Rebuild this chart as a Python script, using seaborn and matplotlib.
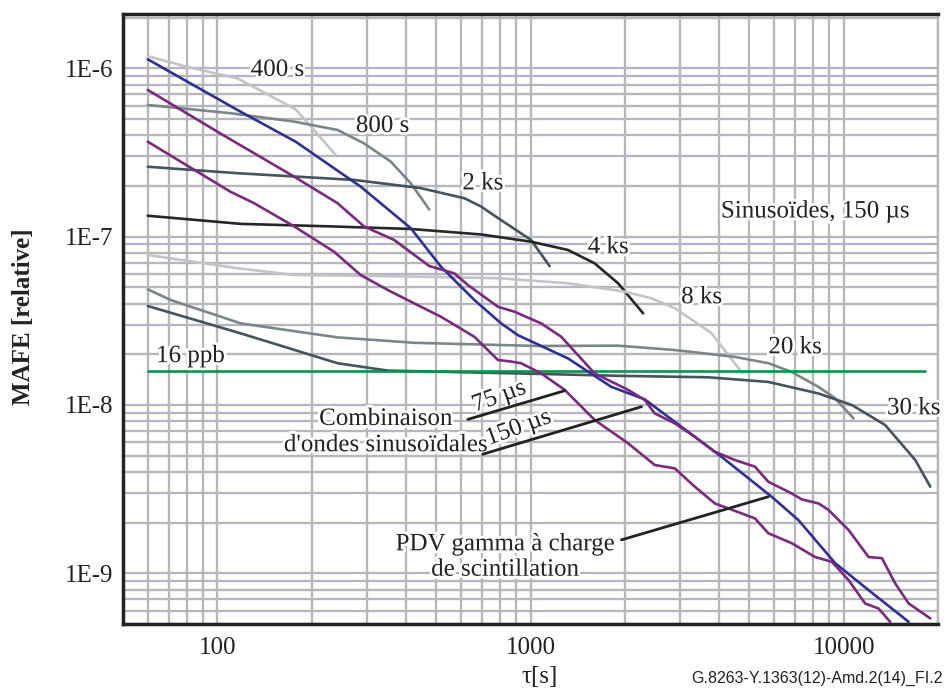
import numpy as np
import pandas as pd
import matplotlib
matplotlib.use("Agg")
import matplotlib.pyplot as plt
import matplotlib.patheffects as pe
from matplotlib.ticker import FixedLocator, FixedFormatter, NullFormatter, LogLocator
import seaborn as sns

# ---------------- data ----------------
x_400s = [60, 80, 116, 178, 239]
y_400s = [1.18e-6, 1.02e-6, 8.7e-7, 5.7e-7, 3.05e-7]

x_800s = [60, 110, 176, 242, 294, 358, 415, 475]
y_800s = [6.05e-7, 5.41e-7, 4.82e-7, 4.3e-7, 3.58e-7, 2.79e-7, 2.07e-7, 1.45e-7]

x_2ks = [60, 116, 274, 447, 615, 695, 787, 1004, 1151]
y_2ks = [2.6e-7, 2.38e-7, 2.17e-7, 1.94e-7, 1.69e-7, 1.51e-7, 1.29e-7, 9.55e-8, 6.68e-8]

x_4ks = [60, 119, 230, 415, 695, 1004, 1317, 1602, 1904, 2289]
y_4ks = [1.33e-7, 1.19e-7, 1.15e-7, 1.11e-7, 1.03e-7, 9.33e-8, 8.33e-8, 6.94e-8, 5.28e-8, 3.5e-8]

x_8ks = [60, 116, 176, 447, 806, 1317, 1998, 2432, 2882, 3785, 4280, 4742]
y_8ks = [7.78e-8, 6.49e-8, 5.92e-8, 5.78e-8, 5.65e-8, 5.28e-8, 4.71e-8, 4.3e-8, 3.77e-8, 2.67e-8, 1.98e-8, 1.55e-8]

x_20ks = [60, 71, 119, 242, 426, 1056, 1904, 2888, 4494, 5745, 6823, 8307, 9365, 10748]
y_20ks = [4.86e-8, 4.2e-8, 3.05e-8, 2.52e-8, 2.34e-8, 2.24e-8, 2.25e-8, 2.12e-8, 1.93e-8, 1.77e-8,
          1.57e-8, 1.28e-8, 1.1e-8, 8.32e-9]

x_30ks = [60, 119, 242, 350, 1056, 1904, 3694, 5745, 8307, 10630, 13566, 16920, 18900]
y_30ks = [3.87e-8, 2.66e-8, 1.77e-8, 1.6e-8, 1.53e-8, 1.49e-8, 1.46e-8, 1.37e-8, 1.17e-8, 9.98e-9,
          7.6e-9, 4.71e-9, 3.27e-9]

x_pdv = [60, 116, 178, 287, 415, 518, 662, 806, 911, 1317, 1813, 2316, 3032, 4073, 5888, 7170,
         9387, 12004, 16120]
y_pdv = [1.13e-6, 5.65e-7, 3.66e-7, 1.98e-7, 1.12e-7, 6.62e-8, 4.2e-8, 3.05e-8, 2.6e-8, 1.89e-8,
         1.28e-8, 1.08e-8, 7.42e-9, 4.92e-9, 2.85e-9, 2.07e-9, 1.15e-9, 7.95e-10, 5.15e-10]

x_comb150 = [60, 102, 176, 242, 294, 367, 475, 571, 631, 787, 889, 1082, 1254, 1602, 2049, 2316,
             2493, 2888, 3346, 3878, 4494, 5207, 5745, 6823, 7345, 8307, 8941, 10360, 12004, 13243,
             14602, 16120, 18900]
y_comb150 = [7.43e-7, 4.11e-7, 2.27e-7, 1.58e-7, 1.15e-7, 9.55e-8, 6.69e-8, 6.05e-8, 5.16e-8, 3.83e-8,
             3.58e-8, 3.05e-8, 2.54e-8, 1.54e-8, 1.23e-8, 1.07e-8, 8.91e-9, 7.78e-9, 6.48e-9, 5.27e-9,
             4.71e-9, 4.3e-9, 3.5e-9, 2.98e-9, 2.75e-9, 2.6e-9, 2.38e-9, 1.81e-9, 1.25e-9, 1.23e-9,
             8.71e-10, 6.62e-10, 5.4e-10]

x_comb75 = [60, 110, 131, 176, 236, 287, 350, 447, 518, 662, 787, 868, 933, 1082, 1285, 1602, 2049,
            2493, 2888, 3346, 3878, 4280, 5207, 5745, 6823, 8101, 9168, 10360, 11706, 12920, 14073]
y_comb75 = [3.66e-7, 1.85e-7, 1.58e-7, 1.15e-7, 8.13e-8, 5.91e-8, 4.82e-8, 3.83e-8, 3.34e-8, 2.54e-8,
            1.85e-8, 1.81e-8, 1.77e-8, 1.54e-8, 1.23e-8, 8.15e-9, 5.92e-9, 4.4e-9, 4.2e-9, 3.27e-9,
            2.6e-9, 2.43e-9, 2.12e-9, 1.73e-9, 1.51e-9, 1.25e-9, 1.17e-9, 9.12e-10, 6.62e-10, 6.18e-10,
            5.15e-10]

x_16ppb = [60, 18140]
y_16ppb = [1.6e-8, 1.6e-8]

series_names = ["400 s", "800 s", "2 ks", "4 ks", "8 ks", "20 ks", "30 ks",
                "16 ppb", "PDV", "75 µs", "150 µs"]
series_x = [x_400s, x_800s, x_2ks, x_4ks, x_8ks, x_20ks, x_30ks, x_16ppb, x_pdv, x_comb75, x_comb150]
series_y = [y_400s, y_800s, y_2ks, y_4ks, y_8ks, y_20ks, y_30ks, y_16ppb, y_pdv, y_comb75, y_comb150]

y_ticks = [1e-9, 1e-8, 1e-7, 1e-6]
y_tick_labels = ["1E-9", "1E-8", "1E-7", "1E-6"]
x_ticks = [100, 1000, 10000]
x_tick_labels = ["100", "1000", "10000"]

# ---------------- style ----------------
c_light = "#c3c4c8"
c_mid = "#7d8589"
c_dark = "#47535a"
c_black = "#262626"
palette = {"400 s": c_light, "800 s": c_mid, "2 ks": c_dark, "4 ks": c_black,
           "8 ks": c_light, "20 ks": c_mid, "30 ks": c_dark, "16 ppb": "#00934a",
           "PDV": "#2e3192", "75 µs": "#7a2a7e", "150 µs": "#7a2a7e"}

sns.set_style("white")
plt.rcParams["font.family"] = ["Liberation Serif", "DejaVu Serif"]

df = pd.concat([pd.DataFrame({"tau": xs, "mafe": ys, "series": n})
                for n, xs, ys in zip(series_names, series_x, series_y)], ignore_index=True)

fig = plt.figure(figsize=(9.49, 6.88), dpi=100)
ax = fig.add_axes([123 / 949, 1 - 624 / 688, (938 - 123) / 949, (624 - 14) / 688])

sns.lineplot(data=df, x="tau", y="mafe", hue="series", palette=palette, hue_order=series_names,
             sort=False, estimator=None, units="series", legend=False, linewidth=1.9, ax=ax)

ax.set_xscale("log")
ax.set_yscale("log")
ax.set_xlim(50, 20000)
ax.set_ylim(5e-10, 2.1e-6)

ax.xaxis.set_major_locator(FixedLocator(x_ticks))
ax.xaxis.set_major_formatter(FixedFormatter(x_tick_labels))
ax.xaxis.set_minor_locator(LogLocator(base=10, subs=np.arange(2, 10)))
ax.xaxis.set_minor_formatter(NullFormatter())
ax.yaxis.set_major_locator(FixedLocator(y_ticks))
ax.yaxis.set_major_formatter(FixedFormatter(y_tick_labels))
ax.yaxis.set_minor_locator(LogLocator(base=10, subs=np.arange(2, 10)))
ax.yaxis.set_minor_formatter(NullFormatter())

ax.set_axisbelow(True)
ax.grid(True, which="both", color="#b5b7bc", linewidth=1.7)
ax.tick_params(which="both", direction="in", length=8, width=2, color="#222222",
               top=False, right=False, labelsize=18, labelcolor="#222222")
ax.tick_params(axis="x", pad=9)
ax.tick_params(axis="y", pad=7)
for s in ["left", "bottom", "top"]:
    ax.spines[s].set_linewidth(2.5)
    ax.spines[s].set_color("#222222")
ax.spines["right"].set_color("#b5b7bc")
ax.spines["right"].set_linewidth(1.7)

ax.set_ylabel("MAFE [relative]", fontsize=18, fontweight="bold", color="#222222")
ax.yaxis.set_label_coords((23 - 123) / 815, (624 - 317) / 610)
ax.yaxis.label.set_va("center")
ax.set_xlabel("τ[s]", fontsize=18, color="#222222")
ax.xaxis.set_label_coords((540 - 123) / 815, (624 - 677) / 610)
ax.xaxis.label.set_va("center")

halo = [pe.withStroke(linewidth=4, foreground="white")]
tkw = dict(fontsize=18, color="#222222", path_effects=halo, ha="center", va="center")

ax.text(155.6, 9.77e-7, "400 s", **tkw)
ax.text(337, 4.54e-7, "800 s", **tkw)
ax.text(704, 2.07e-7, "2 ks", **tkw)
ax.text(1769, 8.64e-8, "4 ks", **tkw)
ax.text(3516, 4.36e-8, "8 ks", **tkw)
ax.text(6990, 2.2e-8, "20 ks", **tkw)
ax.text(16720, 9.55e-9, "30 ks", **tkw)
ax.text(4054, 1.41e-7, "Sinusoïdes, 150 µs", **{**tkw, "ha": "left"})
ax.text(82.1, 1.95e-8, "16 ppb", **tkw)
ax.text(794, 1.12e-8, "75 µs", rotation=20, **tkw)
ax.text(915, 7.3e-9, "150 µs", rotation=20, **tkw)
ax.text(345, 6.9e-9, "Combinaison\nd'ondes sinusoïdales", linespacing=1.25, **tkw)
ax.text(830, 1.25e-9, "PDV gamma à charge\nde scintillation", linespacing=1.2, **tkw)

lkw = dict(arrowprops=dict(arrowstyle="-", color="#222222", lw=2, shrinkA=0, shrinkB=0))
ax.annotate("", xy=(1285, 1.215e-8), xytext=(631, 8.21e-9), **lkw)
ax.annotate("", xy=(2260, 9.76e-9), xytext=(704, 5.1e-9), **lkw)
ax.annotate("", xy=(5745, 2.85e-9), xytext=(1951, 1.58e-9), **lkw)

fig.text(817 / 949, 1 - 678 / 688, "G.8263-Y.1363(12)-Amd.2(14)_FI.2", fontsize=11.5,
         family=["Liberation Sans", "DejaVu Sans"], color="#222222", ha="center", va="center")

fig.savefig("out.png", dpi=100)
